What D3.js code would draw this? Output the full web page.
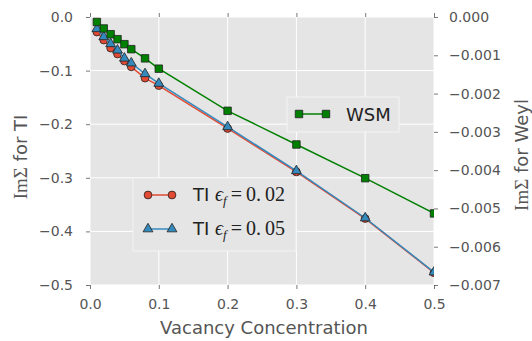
<!DOCTYPE html>
<html>
<head>
<meta charset="utf-8">
<script src="https://cdn.jsdelivr.net/npm/d3@7"></script>
<style>
  html, body { margin: 0; padding: 0; background: #fff; }
  svg { display: block; }
</style>
</head>
<body>
<svg id="chart" width="532" height="341"></svg>
<script>
// ---- data ----
const vacancy = [0.01, 0.02, 0.03, 0.04, 0.05, 0.06, 0.08, 0.1, 0.2, 0.3, 0.4, 0.5];
const tiEf002 = [-0.028, -0.043, -0.058, -0.069, -0.082, -0.093, -0.114, -0.128, -0.208, -0.289, -0.376, -0.477];
const tiEf005 = [-0.022, -0.037, -0.050, -0.062, -0.077, -0.086, -0.106, -0.124, -0.205, -0.287, -0.375, -0.476];
const wsm = [-0.00013, -0.00030, -0.00045, -0.00058, -0.00071, -0.00084, -0.00108, -0.00135, -0.00245, -0.00333, -0.00421, -0.00513];
const xTicks = [0.0, 0.1, 0.2, 0.3, 0.4, 0.5];
const yLeftTicks = [0.0, -0.1, -0.2, -0.3, -0.4, -0.5];
const yRightTicks = [0.000, -0.001, -0.002, -0.003, -0.004, -0.005, -0.006, -0.007];

const svg = d3.select("#chart");
const L = 90, R = 434, T = 17, B = 285;

const x = d3.scaleLinear().domain([0, 0.5]).range([L, R]);
const yL = d3.scaleLinear().domain([-0.5, 0]).range([B, T]);
const yR = d3.scaleLinear().domain([-0.007, 0]).range([B, T]);

const tickColor = "#555555";
const sans = "'DejaVu Sans', sans-serif";
const serif = "'Liberation Serif', 'DejaVu Serif', serif";

// background
svg.append("rect").attr("x", L).attr("y", T).attr("width", R - L).attr("height", B - T).attr("fill", "#e5e5e5");

// grid
const grid = svg.append("g");
grid.selectAll("line.v").data(xTicks).join("line")
  .attr("x1", d => x(d)).attr("x2", d => x(d)).attr("y1", T).attr("y2", B)
  .attr("stroke", "#ffffff").attr("stroke-width", 1);
grid.selectAll("line.h").data(yLeftTicks).join("line")
  .attr("x1", L).attr("x2", R).attr("y1", d => yL(d)).attr("y2", d => yL(d))
  .attr("stroke", "#ffffff").attr("stroke-width", 1);

// axes
const fmt1 = d => (d < 0 ? "\u2212" : "") + Math.abs(d).toFixed(1);
const fmt3 = d => (d < 0 ? "\u2212" : "") + Math.abs(d).toFixed(3);

function styleAxis(g) {
  g.select(".domain").remove();
  g.selectAll(".tick line").attr("stroke", tickColor).attr("stroke-width", 0.8);
  g.selectAll(".tick text").attr("fill", tickColor).style("font-family", sans).style("font-size", "14px");
}

svg.append("g").attr("transform", `translate(0,${B})`)
  .call(d3.axisBottom(x).tickValues(xTicks).tickFormat(d => d.toFixed(1)).tickSize(4).tickPadding(10))
  .call(styleAxis);
svg.append("g").attr("transform", `translate(0,${T})`)
  .call(d3.axisTop(x).tickValues(xTicks).tickFormat("").tickSize(4))
  .call(styleAxis);
svg.append("g").attr("transform", `translate(${L},0)`)
  .call(d3.axisLeft(yL).tickValues(yLeftTicks).tickFormat(fmt1).tickSize(4).tickPadding(13))
  .call(styleAxis);
svg.append("g").attr("transform", `translate(${R},0)`)
  .call(d3.axisRight(yR).tickValues(yRightTicks).tickFormat(fmt3).tickSize(4).tickPadding(11))
  .call(styleAxis);

// axis labels
svg.append("text").attr("x", (L + R) / 2 + 2).attr("y", 334).attr("text-anchor", "middle")
  .attr("fill", tickColor).style("font-family", sans).style("font-size", "18px")
  .text("Vacancy Concentration");

function yLabel(cx, cy, rest) {
  const t = svg.append("text").attr("transform", `translate(${cx},${cy}) rotate(-90)`)
    .attr("text-anchor", "middle").attr("fill", tickColor).style("font-size", "18px");
  t.append("tspan").style("font-family", serif).style("font-size", "19px").text("Im\u03A3");
  t.append("tspan").style("font-family", sans).text(rest);
}
yLabel(27, 157, " for TI");
yLabel(528, 155, " for Weyl");

// clip
svg.append("clipPath").attr("id", "plotclip").append("rect")
  .attr("x", L).attr("y", T - 10).attr("width", R - L).attr("height", B - T + 10);

const plot = svg.append("g").attr("clip-path", "url(#plotclip)");

const red = "#E24A33", blue = "#348ABD", green = "#008000";
const ptsA = vacancy.map((v, i) => [v, tiEf002[i]]);
const ptsB = vacancy.map((v, i) => [v, tiEf005[i]]);
const ptsW = vacancy.map((v, i) => [v, wsm[i]]);

const lineL = d3.line().x(d => x(d[0])).y(d => yL(d[1]));
const lineR = d3.line().x(d => x(d[0])).y(d => yR(d[1]));

const circleSym = d3.symbol().type(d3.symbolCircle).size(48);
const triSym = d3.symbol().type(d3.symbolTriangle).size(42);
const sqSym = d3.symbol().type(d3.symbolSquare).size(56);

function drawSeries(pts, lineGen, yScale, color, sym) {
  plot.append("path").datum(pts).attr("d", lineGen).attr("fill", "none")
    .attr("stroke", color).attr("stroke-width", 1.5);
  plot.selectAll(null).data(pts).join("path")
    .attr("transform", d => `translate(${x(d[0])},${yScale(d[1])})`)
    .attr("d", sym).attr("fill", color).attr("stroke", "#222").attr("stroke-width", 0.8);
}
drawSeries(ptsA, lineL, yL, red, circleSym);
drawSeries(ptsB, lineL, yL, blue, triSym);
drawSeries(ptsW, lineR, yR, green, sqSym);

// legends
function legendBox(x0, y0, w, h) {
  svg.append("rect").attr("x", x0).attr("y", y0).attr("width", w).attr("height", h)
    .attr("fill", "#e5e5e5").attr("stroke", "#f4f4f4").attr("stroke-width", 1);
}
function legendEntry(x1, x2, yy, color, sym) {
  svg.append("line").attr("x1", x1).attr("x2", x2).attr("y1", yy).attr("y2", yy)
    .attr("stroke", color).attr("stroke-width", 1.5);
  [x1, x2].forEach(xx => svg.append("path").attr("transform", `translate(${xx},${yy})`)
    .attr("d", sym).attr("fill", color).attr("stroke", "#222").attr("stroke-width", 0.8));
}

legendBox(287, 97, 112, 35);
legendEntry(299, 326, 114, green, sqSym);
svg.append("text").attr("x", 346).attr("y", 120.5).attr("fill", "#222")
  .style("font-family", sans).style("font-size", "18px").text("WSM");

legendBox(133, 178, 163, 73);
legendEntry(148, 172, 195, red, circleSym);
legendEntry(148, 172, 229, blue, triSym);
function tiLabel(yy, val) {
  const t = svg.append("text").attr("x", 193).attr("y", yy).attr("fill", "#222").style("font-size", "18px");
  t.append("tspan").style("font-family", sans).text("TI ");
  t.append("tspan").style("font-family", serif).style("font-style", "italic").style("font-size", "20px").text("\u03F5");
  t.append("tspan").style("font-family", serif).style("font-style", "italic").style("font-size", "13px").attr("dy", 4).text("f");
  t.append("tspan").style("font-family", serif).style("font-size", "20px").attr("dy", -4).text("\u2009=\u2009" + val);
}
tiLabel(201, "0.\u200902");
tiLabel(235, "0.\u200905");
</script>
</body>
</html>
